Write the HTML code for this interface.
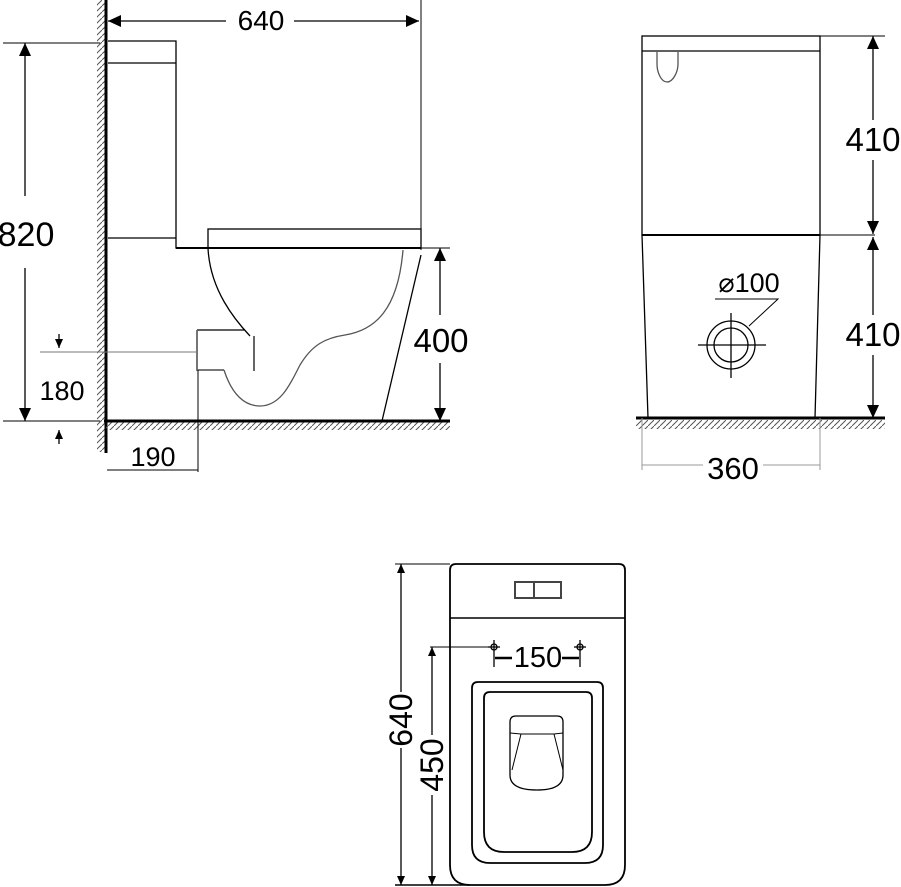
<!DOCTYPE html>
<html><head><meta charset="utf-8"><style>
html,body{margin:0;padding:0;background:#fff;}
svg{display:block;}
text{font-family:"Liberation Sans",Arial,sans-serif;fill:#000;}
</style></head><body>
<svg width="901" height="887" viewBox="0 0 901 887" xmlns="http://www.w3.org/2000/svg">
<defs>
<pattern id="hv" width="6" height="6" patternUnits="userSpaceOnUse"><path d="M6,0 L0,6" stroke="#555" stroke-width="1"/></pattern>
<marker id="ar" viewBox="0 0 10 10" refX="10" refY="5" markerWidth="13" markerHeight="12" orient="auto-start-reverse" markerUnits="userSpaceOnUse" preserveAspectRatio="none"><path d="M0,0 L10,5 L0,10 z" fill="#000"/></marker>
<marker id="as" viewBox="0 0 10 10" refX="10" refY="5" markerWidth="9" markerHeight="8" orient="auto-start-reverse" markerUnits="userSpaceOnUse" preserveAspectRatio="none"><path d="M0,0 L10,5 L0,10 z" fill="#000"/></marker>
</defs>
<g fill="none" stroke="#000" stroke-width="1.3">
<rect x="97" y="0" width="8" height="452" fill="url(#hv)" stroke="none"/>
<line x1="106" y1="0" x2="106" y2="453" stroke-width="3"/>
<rect x="106" y="422" width="344" height="8" fill="url(#hv)" stroke="none"/>
<line x1="104" y1="421" x2="450" y2="421" stroke-width="3"/>
<line x1="421" y1="0" x2="421" y2="250" stroke-width="1"/>
<line x1="108" y1="21" x2="226" y2="21" marker-start="url(#ar)"/>
<line x1="294" y1="21" x2="419" y2="21" marker-end="url(#ar)"/>
<path d="M108,41 H176 V248 H421"/>
<line x1="108" y1="63" x2="176" y2="63"/>
<line x1="108" y1="238" x2="176" y2="238"/>
<line x1="176" y1="248" x2="421" y2="248" stroke-width="2"/>
<rect x="208" y="229" width="213" height="19"/>
<line x1="421" y1="248" x2="450" y2="248" stroke-width="1"/>
<path d="M208,248 C210,290 235,320 250,336"/>
<path d="M197,330 H245"/>
<line x1="254" y1="336" x2="254" y2="371" stroke="#666" stroke-width="2"/>
<path d="M197,330 V370 H224" stroke="#666" stroke-width="1.8"/>
<path d="M224,370 C232,395 245,406 260,406 C282,406 292,380 300,365 C312,345 325,338 345,335 C375,330 398,310 403,250" stroke="#555"/>
<path d="M421,255 L382,421"/>
<line x1="3" y1="43" x2="100" y2="43" stroke-width="1"/>
<line x1="3" y1="421" x2="100" y2="421" stroke-width="1"/>
<line x1="25" y1="43" x2="25" y2="196" marker-start="url(#ar)"/>
<line x1="25" y1="268" x2="25" y2="421" marker-end="url(#ar)"/>
<line x1="440" y1="248" x2="440" y2="315" marker-start="url(#ar)"/>
<line x1="440" y1="363" x2="440" y2="421" marker-end="url(#ar)"/>
<line x1="40" y1="352" x2="197" y2="352" stroke="#777" stroke-width="1"/>
<line x1="59" y1="334" x2="59" y2="348" marker-end="url(#as)"/>
<line x1="59" y1="444" x2="59" y2="430" marker-end="url(#as)"/>
<line x1="198" y1="370" x2="198" y2="472" stroke-width="1"/>
<line x1="107" y1="470" x2="198" y2="470" stroke-width="1"/>
<rect x="642" y="36" width="178" height="199"/>
<line x1="642" y1="51" x2="820" y2="51"/>
<path d="M657,52 V64 C657,72 661,82 667,82 C673,82 678,72 678,64 V52" stroke="#555"/>
<path d="M642,235 L648,418 M820,235 L815,418"/>
<line x1="642" y1="235" x2="820" y2="235" stroke-width="2"/>
<rect x="636" y="420" width="249" height="9" fill="url(#hv)" stroke="none"/>
<line x1="636" y1="418" x2="885" y2="418" stroke-width="3"/>
<line x1="820" y1="36" x2="885" y2="36" stroke-width="1"/>
<line x1="820" y1="235" x2="875" y2="235" stroke-width="1"/>
<line x1="873" y1="36" x2="873" y2="120" marker-start="url(#ar)"/>
<line x1="873" y1="160" x2="873" y2="234" marker-end="url(#ar)"/>
<line x1="873" y1="237" x2="873" y2="315" marker-start="url(#ar)"/>
<line x1="873" y1="355" x2="873" y2="418" marker-end="url(#ar)"/>
<circle cx="731" cy="345" r="24"/>
<circle cx="731" cy="345" r="17"/>
<line x1="698" y1="345" x2="766" y2="345"/>
<line x1="731" y1="313" x2="731" y2="378"/>
<path d="M749,326 L778,299 H715" stroke-width="1"/>
<line x1="642" y1="418" x2="642" y2="470" stroke="#999" stroke-width="1"/>
<line x1="820" y1="418" x2="820" y2="470" stroke="#999" stroke-width="1"/>
<line x1="642" y1="465" x2="703" y2="465" stroke="#999" stroke-width="1"/>
<line x1="763" y1="465" x2="820" y2="465" stroke="#999" stroke-width="1"/>
<path d="M456,564 H619 Q625,564 625,570 V865 Q625,885 605,885 H470 Q450,885 450,865 V570 Q450,564 456,564 Z" stroke-width="1.8"/>
<line x1="450" y1="618" x2="625" y2="618" stroke-width="1.5"/>
<rect x="515" y="582" width="46" height="16" stroke="#444" stroke-width="2"/>
<line x1="534" y1="582" x2="534" y2="598" stroke="#444" stroke-width="2"/>
<path d="M478,682 H597 Q603,682 603,688 V845 Q603,863 585,863 H490 Q472,863 472,845 V688 Q472,682 478,682 Z" stroke-width="1.8"/>
<path d="M490,692 H586 Q592,692 592,698 V832 Q592,852 572,852 H504 Q484,852 484,832 V698 Q484,692 490,692 Z" stroke-width="1.8"/>
<path d="M516,716 H557 Q563,716 563,722 V775 Q563,790 537,790 Q510,790 510,775 V722 Q510,716 516,716 Z"/>
<path d="M510,733 L521,734 H554 L563,733 M521,734 L512,770 M554,734 L563,770" stroke-width="1"/>
<line x1="395" y1="564" x2="450" y2="564" stroke-width="1"/>
<line x1="395" y1="885" x2="470" y2="885" stroke-width="1.5"/>
<line x1="401" y1="564" x2="401" y2="692" marker-start="url(#as)"/>
<line x1="401" y1="748" x2="401" y2="885" marker-end="url(#as)"/>
<line x1="430" y1="647" x2="494" y2="647" stroke-width="1"/>
<line x1="432" y1="647" x2="432" y2="735" marker-start="url(#as)"/>
<line x1="432" y1="795" x2="432" y2="885" marker-end="url(#as)"/>
<circle cx="494" cy="647" r="3"/><line x1="488" y1="647" x2="500" y2="647"/><line x1="494" y1="640" x2="494" y2="667"/>
<circle cx="580" cy="647" r="3"/><line x1="574" y1="647" x2="586" y2="647"/><line x1="580" y1="640" x2="580" y2="667"/>
<line x1="495" y1="658" x2="512" y2="658" stroke-width="2.5"/>
<line x1="562" y1="658" x2="579" y2="658" stroke-width="2.5"/>
</g>
<text x="261" y="30" font-size="28" text-anchor="middle">640</text>
<text x="26" y="246" font-size="34" text-anchor="middle">820</text>
<text x="441" y="352" font-size="33" text-anchor="middle">400</text>
<text x="62" y="400" font-size="27" text-anchor="middle">180</text>
<text x="153" y="466" font-size="27" text-anchor="middle">190</text>
<text x="873" y="151" font-size="33" text-anchor="middle">410</text>
<text x="873" y="346" font-size="33" text-anchor="middle">410</text>
<text x="749" y="292" font-size="27" text-anchor="middle">⌀100</text>
<text x="733" y="479" font-size="31" text-anchor="middle">360</text>
<text x="538" y="667" font-size="29" text-anchor="middle">150</text>
<text transform="translate(412,720) rotate(-90)" font-size="32" text-anchor="middle">640</text>
<text transform="translate(443,765) rotate(-90)" font-size="32" text-anchor="middle">450</text>
</svg>
</body></html>
